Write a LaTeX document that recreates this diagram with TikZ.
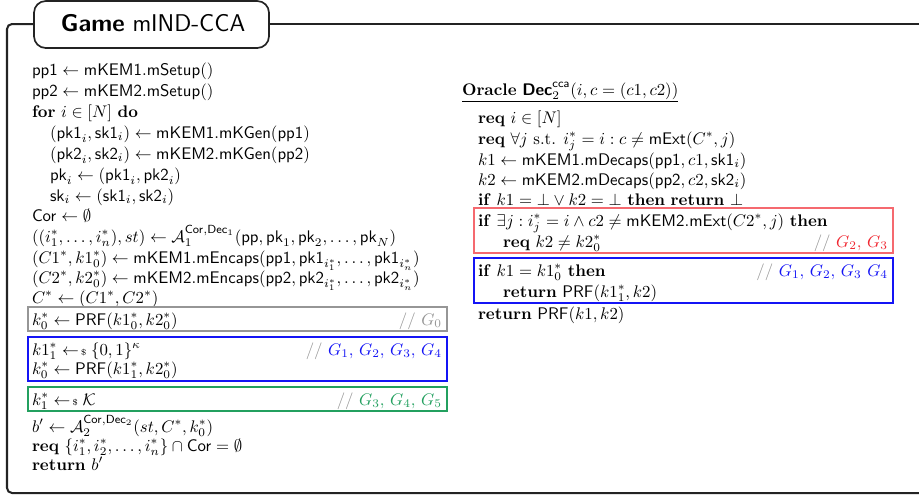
\documentclass[tikz,border=0pt]{standalone}
\usepackage{amsmath,amssymb}
\definecolor{framegray}{RGB}{35,35,35}
\definecolor{gamegreen}{RGB}{35,160,95}
\definecolor{gameblue}{RGB}{20,20,245}
\definecolor{gamered}{RGB}{240,40,50}
\definecolor{notegray}{RGB}{150,150,150}
\newcommand{\alg}[1]{\mathsf{#1}}
\newcommand{\kw}[1]{\mathbf{#1}}
\newcommand{\smp}{\mathrel{\leftarrow\!{\scriptscriptstyle\$}}}
\newcommand{\cmt}[1]{{\color{notegray}//}\ #1}
\begin{document}
\begin{tikzpicture}[x=0.595pt,y=-0.595pt,
  ln/.style={anchor=base west,inner sep=0pt,outer sep=0pt},
  gnote/.style={anchor=base east,inner sep=0pt,outer sep=0pt},
  boxline/.style={line width=0.7pt}]
\useasboundingbox (0,0) rectangle (919,495);

% outer game frame
\draw[line width=1.2pt,framegray,rounded corners=3pt]
  (34,24) -- (7,24) -- (7,493) -- (940,493);
\draw[line width=1.2pt,framegray] (268,24) -- (940,24);

% title tab
\node (titlebox) [draw=framegray,line width=1pt,rounded corners=7pt,fill=white,
  minimum width=235*0.595pt,minimum height=47*0.595pt,inner sep=0pt] at (151.5,24.5) {};
\node (title) [anchor=base,inner sep=0pt] at (153,31)
  {\Large\sffamily\textbf{Game} mIND-CCA};

% left column: the game
\node[ln] (l1) at (32,75) {$\alg{pp1} \gets \alg{mKEM1.mSetup}()$};
\node[ln] (l2) at (32,96) {$\alg{pp2} \gets \alg{mKEM2.mSetup}()$};
\node[ln] (l3) at (32,117) {$\kw{for}\ i \in [N]\ \kw{do}$};
\node[ln] (l4) at (50,138) {$(\alg{pk1}_i, \alg{sk1}_i) \gets \alg{mKEM1.mKGen}(\alg{pp1})$};
\node[ln] (l5) at (50,159) {$(\alg{pk2}_i, \alg{sk2}_i) \gets \alg{mKEM2.mKGen}(\alg{pp2})$};
\node[ln] (l6) at (50,180) {$\alg{pk}_i \gets (\alg{pk1}_i, \alg{pk2}_i)$};
\node[ln] (l7) at (50,201) {$\alg{sk}_i \gets (\alg{sk1}_i, \alg{sk2}_i)$};
\node[ln] (l8) at (32,221) {$\alg{Cor} \gets \emptyset$};
\node[ln] (l9) at (32,242) {$((i_1^*, \ldots, i_n^*), st) \gets \mathcal{A}_1^{\alg{Cor},\alg{Dec}_1}(\alg{pp}, \alg{pk}_1, \alg{pk}_2, \ldots, \alg{pk}_N)$};
\node[ln] (l10) at (32,263) {$(C1^*, k1_0^*) \gets \alg{mKEM1.mEncaps}(\alg{pp1}, \alg{pk1}_{i_1^*}, \ldots, \alg{pk1}_{i_n^*})$};
\node[ln] (l11) at (32,283) {$(C2^*, k2_0^*) \gets \alg{mKEM2.mEncaps}(\alg{pp2}, \alg{pk2}_{i_1^*}, \ldots, \alg{pk2}_{i_n^*})$};
\node[ln] (l12) at (32,303) {$C^* \gets (C1^*, C2^*)$};

\draw[boxline,notegray] (28,307) rectangle (447,331);
\node[ln] (l13) at (32,325) {$k_0^* \gets \alg{PRF}(k1_0^*, k2_0^*)$};
\node[gnote] (c13) at (442,325) {$\cmt{\color{notegray}G_0}$};

\draw[boxline,gameblue] (28,337) rectangle (447,381);
\node[ln] (l14) at (32,355) {$k1_1^* \smp \{0,1\}^\kappa$};
\node[gnote] (c14) at (442,355) {$\cmt{\color{gameblue}G_1,\,G_2,\,G_3,\,G_4}$};
\node[ln] (l15) at (32,374) {$k_0^* \gets \alg{PRF}(k1_1^*, k2_0^*)$};

\draw[boxline,gamegreen] (28,387) rectangle (447,411);
\node[ln] (l16) at (32,405) {$k_1^* \smp \mathcal{K}$};
\node[gnote] (c16) at (442,405) {$\cmt{\color{gamegreen}G_3,\,G_4,\,G_5}$};

\node[ln] (l17) at (32,432) {$b' \gets \mathcal{A}_2^{\alg{Cor},\alg{Dec}_2}(st, C^*, k_0^*)$};
\node[ln] (l18) at (32,451) {$\kw{req}\ \{i_1^*, i_2^*, \ldots, i_n^*\} \cap \alg{Cor} = \emptyset$};
\node[ln] (l19) at (32,470) {$\kw{return}\ b'$};

% right column: the decapsulation oracle
\node[ln] (r0) at (462,95) {\underline{\textbf{Oracle} $\boldsymbol{\alg{Dec}}_2^{\alg{cca}}(i, c = (c1, c2))$}};
\node[ln] (r1) at (478,123) {$\kw{req}\ i \in [N]$};
\node[ln] (r2) at (478,144) {$\kw{req}\ \forall j \text{ s.t. } i_j^* = i : c \neq \alg{mExt}(C^*, j)$};
\node[ln] (r3) at (478,165) {$k1 \gets \alg{mKEM1.mDecaps}(\alg{pp1}, c1, \alg{sk1}_i)$};
\node[ln] (r4) at (478,185) {$k2 \gets \alg{mKEM2.mDecaps}(\alg{pp2}, c2, \alg{sk2}_i)$};
\node[ln] (r5) at (478,205) {$\kw{if}\ k1 = \bot \vee k2 = \bot\ \kw{then}\ \kw{return}\ \bot$};

\draw[boxline,gamered!70] (474,208) rectangle (893,253);
\node[ln] (r6) at (478,226) {$\kw{if}\ \exists j : i_j^* = i \wedge c2 \neq \alg{mKEM2.mExt}(C2^*, j)\ \kw{then}$};
\node[ln] (r7) at (503,247) {$\kw{req}\ k2 \neq k2_0^*$};
\node[gnote] (c7) at (888,247) {$\cmt{\color{gamered}G_2,\,G_3}$};

\draw[boxline,gameblue] (474,258) rectangle (893,303);
\node[ln] (r8) at (478,276) {$\kw{if}\ k1 = k1_0^*\ \kw{then}$};
\node[gnote] (c8) at (888,276) {$\cmt{\color{gameblue}G_1,\,G_2,\,G_3\ G_4}$};
\node[ln] (r9) at (503,297) {$\kw{return}\ \alg{PRF}(k1_1^*, k2)$};
\node[ln] (r10) at (478,319) {$\kw{return}\ \alg{PRF}(k1, k2)$};
\end{tikzpicture}
\end{document}
